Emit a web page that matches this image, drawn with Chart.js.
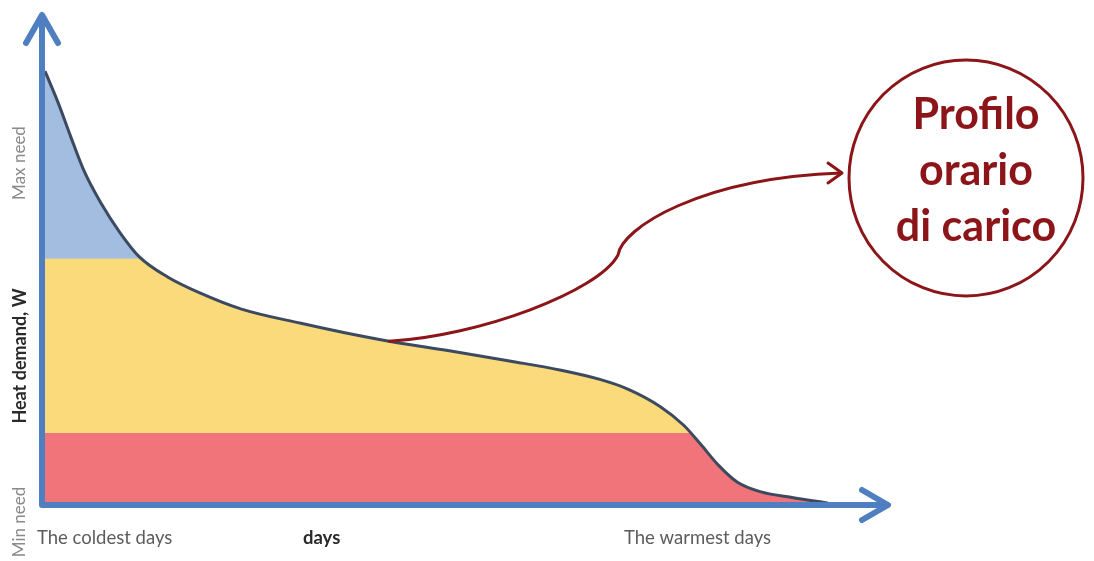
<!DOCTYPE html>
<html>
<head>
<meta charset="utf-8">
<title>Heat demand duration curve</title>
<script src="https://cdn.jsdelivr.net/npm/chart.js@4/dist/chart.umd.min.js"></script>
<style>
  html, body { margin: 0; padding: 0; background: #ffffff; }
  #wrap { width: 1094px; height: 561px; }
</style>
</head>
<body>
<div id="wrap"><canvas id="chart" width="1094" height="561"></canvas></div>
<script>
// Days of the heating season, sorted from the coldest to the warmest
const days = [0, 6, 12, 18, 26, 35, 44, 57, 72, 91, 119, 140, 160, 188, 216, 240, 258, 271, 286, 297, 305, 313, 322, 333, 348, 364];
// Heat demand (relative units, 0-100) for each of those days
const demand = [89.4, 83.0, 75.8, 68.9, 62.1, 55.9, 50.9, 46.8, 43.5, 40.2, 37.2, 35.2, 33.5, 31.5, 29.4, 27.5, 25.6, 23.6, 20.0, 16.1, 12.1, 7.9, 4.3, 2.3, 1.1, 0.0];
// Load bands: base load (red) up to the first level, mid load (yellow) up to the second, peak (blue) above
const bandLevels = [14.6, 50.7];
const bandColors = ['#f1747b', '#fbda7c', '#a2bde0'];
// Axis side labels
const yLabels = ['Min need', 'Heat demand, W', 'Max need'];
const xLabels = ['The coldest days', 'days', 'The warmest days'];
// Callout text
const calloutLines = ['Profilo', 'orario', 'di carico'];
// Day highlighted by the callout arrow
const calloutDay = 160;

const AXIS_BLUE = '#4f7fc0';
const DARK_RED = '#8c1519';
const FONT = 'Lato, "Open Sans", "Liberation Sans", sans-serif';

function bandGradient(context) {
  const chart = context.chart;
  const area = chart.chartArea;
  if (!area) return bandColors[1];
  const ys = chart.scales.y;
  const top = ys.getPixelForValue(ys.max);
  const bottom = ys.getPixelForValue(ys.min);
  const frac = v => (ys.getPixelForValue(v) - top) / (bottom - top);
  const g = chart.ctx.createLinearGradient(0, top, 0, bottom);
  const fPeak = frac(bandLevels[1]);
  const fBase = frac(bandLevels[0]);
  g.addColorStop(0, bandColors[2]);
  g.addColorStop(fPeak, bandColors[2]);
  g.addColorStop(Math.min(1, fPeak + 0.002), bandColors[1]);
  g.addColorStop(fBase, bandColors[1]);
  g.addColorStop(Math.min(1, fBase + 0.002), bandColors[0]);
  g.addColorStop(1, bandColors[0]);
  return g;
}

// Blue arrow axes drawn on top of the filled curve
const arrowAxes = {
  id: 'arrowAxes',
  afterDatasetsDraw(chart) {
    const { ctx, scales } = chart;
    const x0 = scales.x.getPixelForValue(scales.x.min) - 3;
    const y0 = scales.y.getPixelForValue(scales.y.min) + 2;
    const xEnd = scales.x.getPixelForValue(scales.x.max);
    const yEnd = scales.y.getPixelForValue(scales.y.max) - 5;
    ctx.save();
    ctx.strokeStyle = AXIS_BLUE;
    ctx.lineWidth = 6;
    ctx.lineCap = 'round';
    ctx.lineJoin = 'round';
    ctx.beginPath();
    ctx.moveTo(x0, yEnd + 2);
    ctx.lineTo(x0, y0);
    ctx.lineTo(xEnd - 2, y0);
    ctx.stroke();
    // arrow heads
    ctx.beginPath();
    ctx.moveTo(x0 - 16, yEnd + 28);
    ctx.lineTo(x0, yEnd);
    ctx.lineTo(x0 + 16, yEnd + 28);
    ctx.moveTo(xEnd - 26, y0 - 15);
    ctx.lineTo(xEnd, y0);
    ctx.lineTo(xEnd - 26, y0 + 15);
    ctx.stroke();
    ctx.restore();
  }
};

// Side labels, callout arrow and circle
const annotations = {
  id: 'annotations',
  afterDraw(chart) {
    const { ctx } = chart;
    ctx.save();
    // vertical labels along the y axis
    const vx = 20;
    const vy = [522, 356, 163];
    const vStyle = [
      { font: '17px ' + FONT, color: '#8a8a8a' },
      { font: 'bold 18px ' + FONT, color: '#2a2a2a' },
      { font: '17px ' + FONT, color: '#8a8a8a' }
    ];
    yLabels.forEach((t, i) => {
      ctx.save();
      ctx.translate(vx, vy[i]);
      ctx.rotate(-Math.PI / 2);
      ctx.font = vStyle[i].font;
      ctx.fillStyle = vStyle[i].color;
      ctx.textAlign = 'center';
      ctx.textBaseline = 'middle';
      ctx.fillText(t, 0, 0);
      ctx.restore();
    });
    // labels under the x axis
    ctx.textBaseline = 'middle';
    ctx.textAlign = 'left';
    const hx = [37, 303, 624];
    const hStyle = [
      { font: '18.5px ' + FONT, color: '#5c5c5c' },
      { font: 'bold 18.5px ' + FONT, color: '#2a2a2a' },
      { font: '18.5px ' + FONT, color: '#5c5c5c' }
    ];
    xLabels.forEach((t, i) => {
      ctx.font = hStyle[i].font;
      ctx.fillStyle = hStyle[i].color;
      ctx.fillText(t, hx[i], 538);
    });

    // callout arrow from a point on the curve to the circle
    const meta = chart.getDatasetMeta(0);
    const idx = days.indexOf(calloutDay);
    const p = meta.data[idx];
    const sx = p.x, sy = p.y;
    ctx.strokeStyle = DARK_RED;
    ctx.lineWidth = 3;
    ctx.lineCap = 'round';
    ctx.lineJoin = 'round';
    ctx.beginPath();
    ctx.moveTo(sx, sy);
    ctx.bezierCurveTo(sx + 90, sy - 5, sx + 210, sy - 50, 618, 255);
    ctx.bezierCurveTo(622, 228, 700, 178, 841, 173);
    ctx.stroke();
    ctx.beginPath();
    ctx.moveTo(828, 163);
    ctx.lineTo(842, 173);
    ctx.lineTo(828, 183);
    ctx.stroke();

    // circle with the callout text
    ctx.beginPath();
    ctx.ellipse(966, 178, 117, 118, 0, 0, Math.PI * 2);
    ctx.stroke();
    ctx.fillStyle = DARK_RED;
    ctx.font = 'bold 43px ' + FONT;
    ctx.textAlign = 'center';
    ctx.textBaseline = 'alphabetic';
    const baselines = [129, 185, 241];
    calloutLines.forEach((t, i) => ctx.fillText(t, 976, baselines[i]));
    ctx.restore();
  }
};

new Chart(document.getElementById('chart'), {
  type: 'line',
  data: {
    datasets: [{
      label: 'Heat demand',
      data: days.map((d, i) => ({ x: d, y: demand[i] })),
      borderColor: '#3b4a5f',
      borderWidth: 3,
      pointRadius: 0,
      cubicInterpolationMode: 'monotone',
      fill: 'origin',
      backgroundColor: bandGradient
    }]
  },
  options: {
    responsive: false,
    devicePixelRatio: 1,
    animation: false,
    events: [],
    layout: { padding: { left: 45, right: 206, top: 20, bottom: 58 } },
    scales: {
      x: { type: 'linear', min: 0, max: 392, display: false },
      y: { min: 0, max: 100, display: false }
    },
    plugins: {
      legend: { display: false },
      tooltip: { enabled: false }
    }
  },
  plugins: [arrowAxes, annotations]
});
</script>
</body>
</html>
